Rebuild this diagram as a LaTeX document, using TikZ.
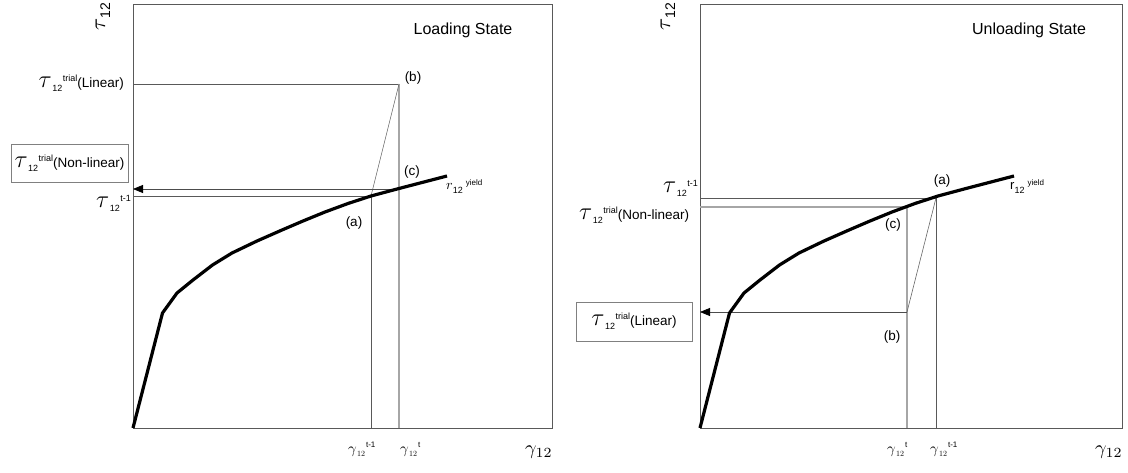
\documentclass[tikz,border=0pt]{standalone}
\usepackage[no-math]{fontspec}
\setmainfont{Liberation Sans}
\usetikzlibrary{arrows.meta}
\newcommand{\mytau}[1]{\raisebox{0pt}{\scalebox{1.7}{$\tau$}}\kern0.5pt\raisebox{-4pt}{\fontsize{9}{9}\selectfont 12}\kern0.5pt\raisebox{6pt}{\fontsize{9}{9}\selectfont #1}}
\newcommand{\mygam}[1]{\scalebox{1.5}{$\gamma$}\kern0.3pt\raisebox{-3pt}{\scalebox{0.8}{$\mathrm{12}$}}\kern1pt\raisebox{6pt}{\fontsize{8}{8}\selectfont #1}}
\newcommand{\myr}[1]{#1\raisebox{-4pt}{\fontsize{9}{9}\selectfont 12}\kern3pt\raisebox{4pt}{\fontsize{8}{8}\selectfont yield}}
\newcommand{\ycurve}{(0,0) -- (29.5,-115) -- (44,-135) -- (60,-148) -- (79.5,-163) -- (99,-175) -- (124,-187) -- (149,-198) -- (170,-207) -- (192,-216) -- (215,-224.5) -- (238,-232) -- (266,-239.5) -- (314,-252)}
\tikzset{
  frame/.style={draw=black!65, line width=0.9pt},
  darkline/.style={draw=black!65, line width=0.8pt},
  grayline/.style={draw=black!35, line width=1.4pt},
  diag/.style={draw=black!60, line width=0.6pt},
  curve/.style={draw=black, line width=3.2pt, line join=round},
  arr/.style={draw=black!70, line width=0.8pt, -{Triangle[length=10pt,width=8pt,fill=black,color=black]}},
  lbl/.style={font=\fontsize{13.5}{14}\selectfont, inner sep=0pt},
  title/.style={font=\fontsize{16}{18}\selectfont, inner sep=0pt},
  labbox/.style={draw=black!50, line width=0.8pt, inner sep=0pt, font=\fontsize{13.5}{14}\selectfont},
}
\begin{document}
\begin{tikzpicture}[x=1pt,y=-1pt]
\useasboundingbox (0,0) rectangle (1128,473);
% ===== Left panel =====
\draw[frame] (133,4) rectangle (552,428);
\coordinate (Lb) at (399,84);
\coordinate (Lc) at (399,189);
\coordinate (La) at (371,196);
\coordinate (LbL) at (133,84);
\coordinate (LaL) at (133,196);
\coordinate (LcL) at (133,189);
\coordinate (LaB) at (371,428);
\coordinate (LbB) at (399,428);
\draw[darkline] (LbL) -- (Lb);
\draw[grayline] (Lb) -- (LbB);
\draw[darkline] (LaL) -- (La) -- (LaB);
\draw[diag] (Lb) -- (La);
\draw[arr] (Lc) -- (LcL);
\begin{scope}[shift={(133,428)}]
\draw[curve] \ycurve;
\end{scope}
\node[title] (Ltitle) at (463,30) {Loading State};
\node[inner sep=0pt, rotate=90, anchor=center] (Lyax) at (103,17) {\scalebox{2.2}{$\tau$}\raisebox{-5pt}{\fontsize{14}{14}\selectfont 12}};
\node[lbl, anchor=base east] (Llin) at (124,88) {\mytau{trial}(Linear)};
\node[labbox, minimum width=117pt, minimum height=38pt] (Lnl) at (69.5,163) {\mytau{trial}(Non-linear)};
\node[lbl, anchor=base west] (Ltm1) at (96,208) {\mytau{t-1}};
\node[lbl] (Lblab) at (413,78) {(b)};
\node[lbl] (Lclab) at (412,172) {(c)};
\node[lbl] (Lalab) at (354,223) {(a)};
\node[inner sep=0pt, anchor=base west] (Lr) at (446,190) {\myr{\scalebox{1.4}{$r$}}};
\node[inner sep=0pt, anchor=base west] (Lg1) at (348,453) {\mygam{t-1}};
\node[inner sep=0pt, anchor=base west] (Lg2) at (400,453) {\mygam{t}};
\node[inner sep=0pt, anchor=base west] (Lgax) at (525,454) {\scalebox{2}{$\gamma_{12}$}};
% ===== Right panel =====
\draw[frame] (700,4) rectangle (1122,428);
\coordinate (Ra) at (936,198);
\coordinate (Rc) at (907,207);
\coordinate (Rb) at (907,312);
\coordinate (RaL) at (700,198);
\coordinate (RcL) at (700,207);
\coordinate (RbL) at (700,312);
\coordinate (RaB) at (936,428);
\coordinate (RcB) at (907,428);
\draw[darkline] (RaL) -- (Ra) -- (RaB);
\draw[grayline] (RcL) -- (Rc) -- (RcB);
\draw[diag] (Ra) -- (Rb);
\draw[arr] (Rb) -- (RbL);
\begin{scope}[shift={(700,428)}]
\draw[curve] \ycurve;
\end{scope}
\node[title] (Rtitle) at (1029,30) {Unloading State};
\node[inner sep=0pt, rotate=90, anchor=center] (Ryax) at (668,17) {\scalebox{2.2}{$\tau$}\raisebox{-5pt}{\fontsize{14}{14}\selectfont 12}};
\node[lbl, anchor=base west] (Rtm1) at (663,193) {\mytau{t-1}};
\node[lbl, anchor=base west] (Rnl) at (579,220) {\mytau{trial}(Non-linear)};
\node[labbox, minimum width=116pt, minimum height=39pt] (Rlin) at (634,321.5) {\mytau{trial}(Linear)};
\node[lbl] (Ralab) at (942,181) {(a)};
\node[lbl] (Rclab) at (893,225) {(c)};
\node[lbl] (Rblab) at (892,337) {(b)};
\node[inner sep=0pt, anchor=base west] (Rr) at (1010,190) {\myr{{\fontsize{13}{13}\selectfont r}}};
\node[inner sep=0pt, anchor=base west] (Rg1) at (887,453) {\mygam{t}};
\node[inner sep=0pt, anchor=base west] (Rg2) at (930,453) {\mygam{t-1}};
\node[inner sep=0pt, anchor=base west] (Rgax) at (1095,454) {\scalebox{2}{$\gamma_{12}$}};
\end{tikzpicture}
\end{document}
